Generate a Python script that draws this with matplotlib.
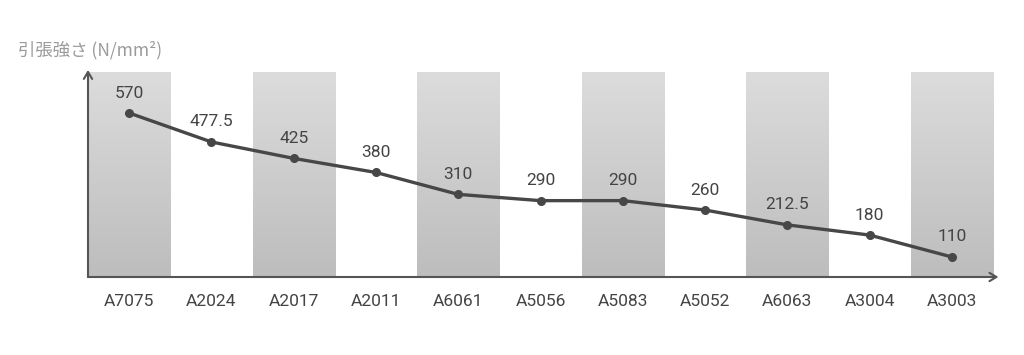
import matplotlib
matplotlib.use("Agg")
import matplotlib.pyplot as plt
import numpy as np

categories = ["A7075", "A2024", "A2017", "A2011", "A6061", "A5056",
              "A5083", "A5052", "A6063", "A3004", "A3003"]
values = [570, 477.5, 425, 380, 310, 290, 290, 260, 212.5, 180, 110]
value_labels = ["570", "477.5", "425", "380", "310", "290", "290", "260", "212.5", "180", "110"]
y_label = "引張強さ (N/mm²)"

plt.rcParams['font.family'] = ['Roboto', 'Noto Sans CJK JP', 'DejaVu Sans']

fig = plt.figure(figsize=(10.24, 3.55), dpi=100)
ax = fig.add_axes([88/1024, 1-277/355, 905/1024, 205/355])

ymin, ymax = 46, 701
x = np.arange(len(categories))
ax.set_xlim(-0.5, len(categories) - 0.5)
ax.set_ylim(ymin, ymax)

# gradient stripes on alternating categories
grad = np.linspace(0, 1, 256).reshape(-1, 1)
cmap = matplotlib.colors.LinearSegmentedColormap.from_list('g', ['#bdbdbd', '#dcdcdc'])
bars = ax.bar(x[::2], [ymax - ymin] * len(x[::2]), bottom=ymin, width=1.0,
              color='none', edgecolor='none', zorder=1)
for b in bars:
    im = ax.imshow(grad, extent=(b.get_x(), b.get_x() + b.get_width(), ymin, ymax),
                   origin='lower', cmap=cmap, aspect='auto', zorder=1)
    im.set_clip_path(b)

ax.plot(x, values, color='#474747', lw=2.4, marker='o', ms=5.5, zorder=3,
        solid_capstyle='round')
for xi, v, t in zip(x, values, value_labels):
    ax.annotate(t, (xi, v), xytext=(0, 9), textcoords='offset points',
                ha='center', va='bottom', fontsize=12.5, color='#444444')

for s in ax.spines.values():
    s.set_visible(False)
ax.set_yticks([])
ax.set_xticks(x)
ax.set_xticklabels(categories, fontsize=12.5, color='#444444')
ax.tick_params(axis='x', length=0, pad=12)

# axis arrows
ax.annotate('', xy=(0, 1.01), xytext=(0, 0), xycoords='axes fraction',
            arrowprops=dict(arrowstyle='->,head_length=0.5,head_width=0.3',
                            color='#555555', lw=1.5, shrinkA=0, shrinkB=0))
ax.annotate('', xy=(1.006, 0), xytext=(0, 0), xycoords='axes fraction',
            arrowprops=dict(arrowstyle='->,head_length=0.5,head_width=0.3',
                            color='#555555', lw=1.5, shrinkA=0, shrinkB=0))

fig.text(18/1024, 1-50/355, y_label, fontsize=12.5, color='#9a9a9a',
         ha='left', va='center', family=['Noto Sans CJK JP', 'DejaVu Sans'])

fig.savefig('out.png', dpi=100)
